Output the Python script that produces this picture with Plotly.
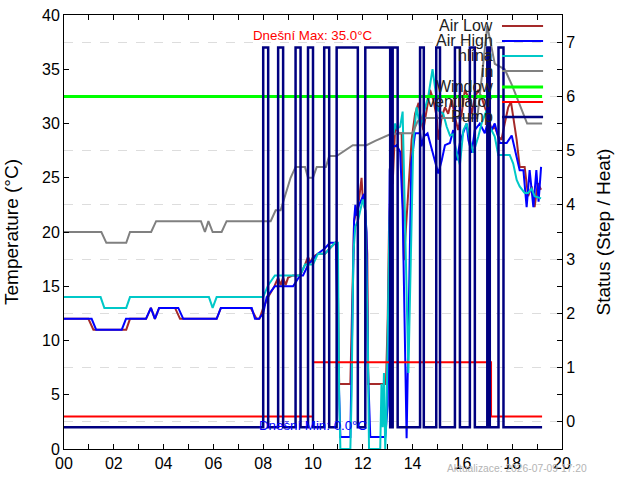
import plotly.graph_objects as go

# ---------------- data ----------------
hour_ticks = [0, 2, 4, 6, 8, 10, 12, 14, 16, 18, 20]
hour_labels = ["00", "02", "04", "06", "08", "10", "12", "14", "16", "18", "20"]

air_low_t = [0, 0.98, 1.18, 2.5, 2.65, 3.3, 3.49, 3.65, 3.82, 4.46, 4.66, 6.13, 6.3, 7.5, 7.73, 7.85,
             8.0, 8.2, 8.45, 8.6, 8.7, 8.8, 8.9, 9.0, 9.2, 9.48, 9.68, 9.8, 9.9, 10.0, 10.2, 10.48, 10.68,
             10.9, 10.98, 11.05, 11.5, 11.55, 11.6, 11.65, 11.75, 11.85, 11.95, 12.0, 12.1, 12.18, 12.22,
             12.93, 13.0, 13.05, 13.12, 13.2, 13.3, 13.45, 13.56, 13.65, 13.96, 14.1, 14.24, 14.3, 14.43,
             14.56, 14.7, 14.83, 14.97, 15.03, 15.17, 15.3, 15.43, 15.57, 15.7, 15.83, 15.97, 16.1, 16.24,
             16.37, 16.5, 16.64, 16.77, 16.9, 17.04, 17.17, 17.3, 17.44, 17.57, 17.7, 17.84, 17.95, 18.04,
             18.18, 18.3, 18.5, 18.64, 18.78, 18.9, 19.03, 19.16]
air_low_v = [12, 12, 11, 11, 12, 12, 13, 12, 13, 13, 12, 12, 13, 13, 12, 12,
             13, 14, 15, 15.8, 15.1, 15.8, 15.1, 15.8, 16, 16, 17, 17.7, 17.2, 17.7, 18, 18, 18.5,
             19, 18.5, 6, 6, 11, 17, 21, 22, 23, 25, 23, 22, 18, 6,
             6, 12, 20, 24.5, 24.5, 29.7, 29.1, 29.1, 17.4, 28.5, 30.9, 31.9, 30.9, 29.4,
             31.2, 33.1, 32.2, 30.6, 28.5, 30.6, 31.5, 30.9, 32.2, 30.6, 29.4, 30.9, 33.1, 32.4,
             30.9, 32.4, 33.1, 32.4, 31.5, 30.6, 29.4, 29.7, 28.8, 28.5, 30.0, 31.5, 32.0, 30.6,
             28.5, 26.0, 26.0, 23.3, 24.2, 22.3, 24.5, 23.9]

air_high_t = [0, 1.11, 1.29, 2.32, 2.49, 3.29, 3.49, 3.65, 3.82, 4.59, 4.79, 6.13, 6.3, 7.54, 7.67, 7.83,
              8.0, 8.14, 8.47, 9.2, 9.48, 9.6, 9.81, 10.0, 10.2, 10.48, 10.68, 10.92, 11.0, 11.1, 11.5,
              11.55, 11.6, 11.65, 11.7, 11.75, 11.85, 11.95, 12.05, 12.15, 12.2, 12.3, 12.9, 13.0, 13.03,
              13.08, 13.2, 13.3, 13.36, 13.5, 13.6, 13.76, 13.82, 13.95, 14.1, 14.3, 14.36, 14.45, 14.6,
              14.77, 14.97, 15.03, 15.17, 15.3, 15.5, 15.63, 15.77, 15.9, 16.04, 16.17, 16.24, 16.37, 16.5,
              16.7, 16.9, 17.04, 17.17, 17.3, 17.5, 17.78, 17.98, 18.18, 18.3, 18.45, 18.58, 18.7, 18.85,
              18.97, 19.06, 19.16]
air_high_v = [12, 12, 11, 11, 12, 12, 13, 12, 13, 13, 12, 12, 13, 13, 12, 12,
              12.5, 14, 15, 15, 16, 16, 17, 17.5, 18, 18.5, 19, 19, 9, 1.1, 1.1,
              8, 15, 21, 22.5, 21.5, 22.5, 23, 23.5, 20, 8, 1.1, 1.1, 4, 9.7,
              25.7, 27.9, 27.9, 28, 27.4, 22, 1.0, 10, 26.4, 29.1, 29.1, 27.9, 28.8, 29.1,
              27.6, 25.7, 25.4, 26.6, 28.0, 28.2, 29.4, 26.6, 28.2, 29.2, 30.0, 28.5, 27.3, 29.4,
              30.0, 29.1, 30.3, 29.4, 30.0, 28.2, 28.2, 28.9, 26.9, 25.7, 25.7, 22.3, 25.7, 22.3,
              25.7, 22.8, 26.0]

soil_t = [0, 1.47, 1.62, 2.5, 2.65, 5.82, 5.97, 6.13, 8.0, 8.2, 8.47, 9.48, 9.68, 10.0, 10.2, 10.48,
          10.68, 10.88, 11.0, 11.05, 11.1, 11.5, 11.55, 11.62, 11.7, 11.8, 11.9, 12.0, 12.1, 12.2,
          12.25, 12.7, 12.75, 12.8, 12.85, 12.9, 12.95, 13.05, 13.15, 13.3, 13.36, 13.5, 13.6, 13.83,
          14.03, 14.16, 14.3, 14.5, 14.63, 14.8, 14.9, 15.03, 15.23, 15.37, 15.5, 15.63, 15.77, 15.9,
          16.04, 16.17, 16.3, 16.44, 16.64, 16.77, 16.97, 17.1, 17.3, 17.44, 17.9, 18.04, 18.18, 18.3,
          18.5, 18.64, 18.78, 18.9, 19.16]
soil_v = [14, 14, 13, 13, 14, 14, 13, 14, 14, 15.1, 16, 16, 17, 17, 18, 18,
          18.5, 19, 19, 5, 0, 0, 5, 18, 20.5, 21, 22, 23, 22, 10,
          0, 0, 6, 2, 7, 0, 3, 18, 28, 30, 29.5, 29.7, 31.1, 7,
          28.5, 31.5, 29.7, 31.5, 32.5, 35.0, 33.1, 31.2, 30.9, 29.7, 28.9, 29.0, 27.2, 26.2,
          29.4, 30.0, 28.5, 27.3, 28.8, 30.0, 31.2, 29.7, 28.8, 27.1, 27.1, 26.3, 24.8, 24.2,
          23.6, 23.6, 24.0, 23.3, 23.1]

inside_t = [0, 1.5, 1.7, 2.5, 2.65, 3.5, 3.7, 5.5, 5.66, 5.8, 5.97, 6.33, 6.53, 8.3, 8.5, 8.7, 8.9,
            9.1, 9.3, 9.68, 9.8, 10.0, 10.15, 10.52, 10.65, 10.95, 11.6, 12.15, 12.5, 12.8, 13.1, 13.56,
            14.0, 14.2, 14.4, 16.6, 17.0, 17.3, 17.7, 18.0, 18.6, 19.2]
inside_v = [20, 20, 19, 19, 20, 20, 21, 21, 20, 21, 20, 20, 21, 21, 22, 22, 23.5,
            25, 26, 26, 25, 25, 26, 26, 27, 27, 28, 28, 28.4, 28.7, 29, 29.1,
            29.1, 30.2, 30.5, 30.5, 39, 35.5, 35, 33.5, 30, 30]

window_t = [0, 19.2]
window_v = [6, 6]

vent_t = [0, 10.0, 17.15, 19.2]
vent_v = [0, 1, 0, 0]

pump_t = [0, 8.0, 8.2, 8.6, 8.8, 9.3, 9.5, 9.8, 10.0, 10.45, 10.65, 10.95, 11.8, 12.1, 13.1,
          13.2, 13.4, 14.3, 14.45, 14.95, 15.1, 15.7, 15.9, 16.3, 16.5, 17.0, 17.1, 17.45, 17.65, 19.2]
pump_v = [0, 7, 0, 7, 0, 7, 0, 7, 0, 7, 0, 7, 0, 7, 0,
          7, 0, 7, 0, 7, 0, 7, 0, 7, 0, 7, 0, 7, 0, 0]

legend_names = ["Air Low", "Air High", "hlína", "in", "Window", "ventilátor", "Pump"]
max_text = "Dnešní Max: 35.0°C"
min_text = "Dnešní Min: 0.0°C"
update_text = "Aktualizace: 2026-07-09 17:20"
# ---------------------------------------

C_LOW = "#a52a2a"
C_HIGH = "#0000ff"
C_SOIL = "#00c8c8"
C_IN = "#808080"
C_WIN = "#00ff00"
C_VENT = "#ff0000"
C_PUMP = "#000080"

VENT_OFF = 0.1
PUMP_OFF = -0.1

fig = go.Figure()
fig.add_trace(go.Scatter(x=air_low_t, y=air_low_v, mode="lines", line=dict(color=C_LOW, width=2), yaxis="y"))
fig.add_trace(go.Scatter(x=air_high_t, y=air_high_v, mode="lines", line=dict(color=C_HIGH, width=2), yaxis="y"))
fig.add_trace(go.Scatter(x=soil_t, y=soil_v, mode="lines", line=dict(color=C_SOIL, width=2), yaxis="y"))
fig.add_trace(go.Scatter(x=inside_t, y=inside_v, mode="lines", line=dict(color=C_IN, width=2), yaxis="y"))
fig.add_trace(go.Scatter(x=window_t, y=window_v, mode="lines", line=dict(color=C_WIN, width=3), yaxis="y2"))
fig.add_trace(go.Scatter(x=vent_t, y=[v + VENT_OFF for v in vent_v], mode="lines",
                         line=dict(color=C_VENT, width=2, shape="hv"), yaxis="y2"))
fig.add_trace(go.Scatter(x=pump_t, y=[v + PUMP_OFF for v in pump_v], mode="lines",
                         line=dict(color=C_PUMP, width=2.5, shape="hv"), yaxis="y2"))

FONT = "Liberation Sans, Arial, sans-serif"

fig.update_layout(
    width=640, height=480,
    margin=dict(l=64, r=78, t=15, b=31, autoexpand=False),
    paper_bgcolor="white", plot_bgcolor="white",
    font=dict(family=FONT, size=16, color="black"),
    showlegend=False,
    xaxis=dict(range=[0, 20], tickmode="array", tickvals=hour_ticks, ticktext=hour_labels,
               ticks="inside", ticklen=5, tickcolor="black", showline=True, linecolor="black",
               linewidth=1, mirror="ticks", showgrid=False, zeroline=False, automargin=False,
               minor=dict(dtick=1, tick0=0, ticks="inside", ticklen=5, tickcolor="black", showgrid=False)),
    yaxis=dict(range=[0, 40], dtick=5, tick0=0, ticks="inside", ticklen=5, tickcolor="black",
               showline=True, linecolor="black", linewidth=1, mirror=True, showgrid=False,
               zeroline=False, automargin=False, title=dict(text="Temperature (°C)", standoff=18)),
    yaxis2=dict(range=[-0.5, 7.5], dtick=1, tick0=0, overlaying="y", side="right", anchor="x",
                ticks="inside", ticklen=5, tickcolor="black", showline=True, linecolor="black",
                linewidth=1, showgrid=True, gridcolor="#dddddd", griddash="dash", gridwidth=1,
                zeroline=False, automargin=False, title=dict(text="Status (Step / Heat)", standoff=22),
                minor=dict(dtick=0.5, tick0=0, ticks="inside", ticklen=5, tickcolor="black", showgrid=False)),
)

annotations = [
    dict(x=10, y=38.1, xref="x", yref="y", text=max_text, showarrow=False,
         font=dict(family=FONT, size=13.3, color="#ff0000"), xanchor="center", yanchor="middle"),
    dict(x=10, y=2.2, xref="x", yref="y", text=min_text, showarrow=False,
         font=dict(family=FONT, size=13.3, color="#0000ff"), xanchor="center", yanchor="middle"),
    dict(x=0.9096, y=-0.044, xref="paper", yref="paper", text=update_text, showarrow=False,
         font=dict(family=FONT, size=10.3, color="#b4b4b4"), xanchor="center", yanchor="middle"),
]
legend_colors = [C_LOW, C_HIGH, C_SOIL, C_IN, C_WIN, C_VENT, C_PUMP]
legend_widths = [2, 2, 2, 2, 3, 2, 2.5]
legend_px = [26, 41, 56, 71, 87, 102, 117]
shapes = []
for name, col, w, py in zip(legend_names, legend_colors, legend_widths, legend_px):
    yy = (449 - py) / 434
    annotations.append(dict(x=0.8655, y=yy, xref="paper", yref="paper", text=name, showarrow=False,
                            font=dict(family=FONT, size=16, color="#222222"),
                            xanchor="right", yanchor="middle"))
    shapes.append(dict(type="line", xref="paper", yref="paper", x0=0.8795, x1=0.962, y0=yy, y1=yy,
                       line=dict(color=col, width=w)))
fig.update_layout(annotations=annotations, shapes=shapes)

fig.write_html("out.html")
